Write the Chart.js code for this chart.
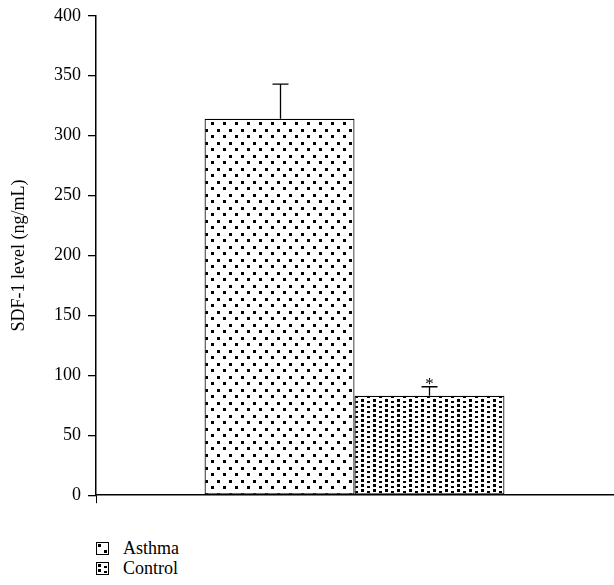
<!DOCTYPE html>
<html>
<head>
<meta charset="utf-8">
<script src="https://cdn.jsdelivr.net/npm/chart.js@4"></script>
<style>
  body { margin: 0; background: #fff; }
  #wrap { position: relative; width: 614px; height: 515px; margin-top: -2px; }
  #legend { margin-left: 96px; margin-top: 25px; font-family: "Liberation Serif", serif; font-size: 18px; color: #000; }
  #legend div { height: 20px; display: flex; align-items: center; }
  #legend span.box { display: inline-block; width: 11px; height: 11px; border: 1px solid #000; margin-right: 14px; }
</style>
</head>
<body>
<div id="wrap"><canvas id="grafico"></canvas></div>
<div id="legend"></div>
<script>
const grupos = ['Asthma', 'Control'];
const valores = [314, 83];
const erros = [29, 7.5];
const marcas = ['', '*'];
const yTicks = [0, 50, 100, 150, 200, 250, 300, 350, 400];

// padroes de pontos (asthma esparso, control denso)
function padrao(w, h, pontos, d) {
  const c = document.createElement('canvas');
  c.width = w; c.height = h;
  const g = c.getContext('2d');
  g.fillStyle = '#fff';
  g.fillRect(0, 0, w, h);
  g.fillStyle = '#000';
  pontos.forEach(p => g.fillRect(p[0], p[1], d, d));
  return c;
}
const tileAsthma = padrao(12, 13, [[1, 1], [7, 7]], 3);
const tileControl = padrao(12, 5, [[1, 1], [7, 3]], 3);

const ctx = document.getElementById('grafico');
const g2 = ctx.getContext('2d');
const fills = [g2.createPattern(tileAsthma, 'repeat'), g2.createPattern(tileControl, 'repeat')];

const errorBars = {
  id: 'errorBars',
  afterDatasetsDraw(chart) {
    const c = chart.ctx;
    const y = chart.scales.y;
    c.save();
    c.strokeStyle = '#000';
    c.lineWidth = 1.3;
    chart.data.datasets.forEach((ds, i) => {
      const bar = chart.getDatasetMeta(i).data[0];
      const topo = y.getPixelForValue(valores[i] + erros[i]);
      const x = Math.round(bar.x) + 0.5;
      c.beginPath();
      c.moveTo(x, bar.y);
      c.lineTo(x, topo);
      c.moveTo(x - 8, topo);
      c.lineTo(x + 8, topo);
      c.stroke();
      if (marcas[i]) {
        c.fillStyle = '#000';
        c.font = '17px "Liberation Serif", serif';
        c.textAlign = 'center';
        c.textBaseline = 'alphabetic';
        c.fillText(marcas[i], x, topo + 2);
      }
    });
    c.restore();
  }
};

new Chart(ctx, {
  type: 'bar',
  data: {
    labels: [''],
    datasets: grupos.map((nome, i) => ({
      label: nome,
      data: [valores[i]],
      backgroundColor: fills[i],
      borderColor: '#000',
      borderWidth: 1.2,
      borderSkipped: false,
      barPercentage: 1,
      categoryPercentage: 0.58
    }))
  },
  options: {
    responsive: true,
    maintainAspectRatio: false,
    animation: false,
    layout: { padding: { top: 6, left: 8, right: 1, bottom: 0 } },
    plugins: { legend: { display: false }, tooltip: { enabled: false } },
    scales: {
      x: {
        ticks: { display: false },
        grid: {
          drawOnChartArea: false,
          tickLength: 8,
          color: (c) => c.index === 0 ? '#000' : 'rgba(0,0,0,0)'
        },
        border: { color: '#000', width: 1.5 }
      },
      y: {
        min: 0,
        max: 400,
        afterBuildTicks: (axis) => { axis.ticks = yTicks.map(v => ({ value: v })); },
        afterFit: (axis) => { axis.width = 88; },
        ticks: { color: '#000', padding: 7, font: { family: 'Liberation Serif', size: 18 } },
        grid: { drawOnChartArea: false, tickLength: 8, color: '#000', lineWidth: 1.3 },
        border: { color: '#000', width: 1.5 },
        title: {
          display: true,
          text: 'SDF-1 level (ng/mL)',
          color: '#000',
          font: { family: 'Liberation Serif', size: 18 },
          padding: { top: 0, bottom: 10 }
        }
      }
    }
  },
  plugins: [errorBars]
});

// legenda
const leg = document.getElementById('legend');
grupos.forEach((nome, i) => {
  const linha = document.createElement('div');
  const box = document.createElement('span');
  box.className = 'box';
  box.style.backgroundImage = 'url(' + (i === 0 ? tileAsthma : tileControl).toDataURL() + ')';
  linha.appendChild(box);
  linha.appendChild(document.createTextNode(nome));
  leg.appendChild(linha);
});
</script>
</body>
</html>
